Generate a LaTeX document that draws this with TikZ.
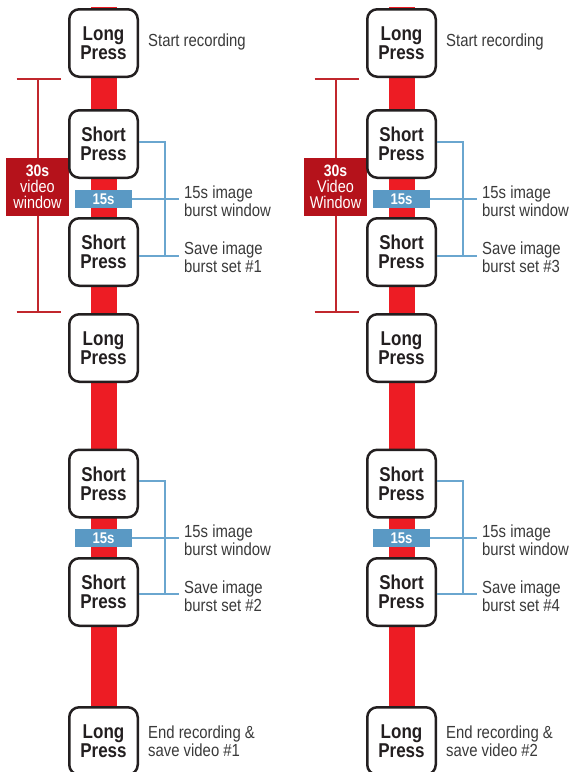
\documentclass[tikz,border=0pt]{standalone}
\usepackage{fontspec}
\setmainfont{Liberation Sans}
\newfontfamily\condfont[FakeStretch=0.85]{Liberation Sans}
\definecolor{barred}{HTML}{ED1C24}
\definecolor{darkred}{HTML}{B5121B}
\definecolor{brktred}{HTML}{C1272D}
\definecolor{boxblue}{HTML}{5A99C4}
\definecolor{lineblue}{HTML}{6AA6CF}
\definecolor{ink}{HTML}{231F20}
\definecolor{labelgray}{HTML}{3A3A3A}
\tikzset{
  pressbox/.style={draw=ink, line width=2.5pt, rounded corners=10pt, fill=white,
    minimum width=68.5pt, minimum height=67.5pt, inner sep=0pt, align=center,
    font=\condfont\bfseries\fontsize{20}{19}\selectfont, text=ink},
  secbox/.style={fill=boxblue, minimum width=57pt, minimum height=18pt, inner sep=0pt,
    text=white, font=\condfont\bfseries\fontsize{15.5}{15}\selectfont},
  vidbox/.style={fill=darkred, minimum width=63pt, minimum height=58pt, inner sep=0pt,
    text=white, align=center, font=\condfont\fontsize{17}{16}\selectfont},
  lbl/.style={anchor=west, align=left, inner sep=0pt, text=labelgray,
    font=\condfont\fontsize{17.5}{18.5}\selectfont},
  bline/.style={draw=lineblue, line width=1.2pt},
  rline/.style={draw=brktred, line width=1.1pt},
  bar/.style={fill=barred}
}
\begin{document}
\begin{tikzpicture}[x=1pt,y=-1pt]
\useasboundingbox (0,0) rectangle (578,772);
\clip (0,0) rectangle (578,772);
\fill[white] (0,0) rectangle (578,772);
\foreach \cx/\sfx/\vw/\na/\nb/\vid in {103.5/L/{video\\window}/1/2/1, 401.5/R/{Video\\Window}/3/4/2}{
  % red bar
  \fill[bar] (\cx-13,7) rectangle (\cx+13,772);
  % red bracket
  \coordinate (rt\sfx) at (\cx-65.5,79);
  \coordinate (rb\sfx) at (\cx-65.5,312);
  \draw[rline] (rt\sfx) -- (rb\sfx);
  \draw[rline] ([xshift=-21.5pt]rt\sfx) -- ([xshift=22.5pt]rt\sfx);
  \draw[rline] ([xshift=-21.5pt]rb\sfx) -- ([xshift=22.5pt]rb\sfx);
  \node[vidbox] (vid\sfx) at (\cx-66,187) {{\bfseries\fontsize{16.5}{16}\selectfont 30s}\\\vw};
  % boxes
  \node[pressbox] (lp1\sfx) at (\cx,43) {Long\\Press};
  \node[pressbox] (sp1\sfx) at (\cx,144) {Short\\Press};
  \node[pressbox] (sp2\sfx) at (\cx,252) {Short\\Press};
  \node[pressbox] (lp2\sfx) at (\cx,348) {Long\\Press};
  \node[pressbox] (sp3\sfx) at (\cx,483.5) {Short\\Press};
  \node[pressbox] (sp4\sfx) at (\cx,592) {Short\\Press};
  \node[pressbox] (lp3\sfx) at (\cx,741) {Long\\Press};
  \node[secbox] (sa\sfx) at (\cx,199) {15s};
  \node[secbox] (sb\sfx) at (\cx,538) {15s};
  % labels
  \node[lbl] (st\sfx) at (\cx+44.5,42) {Start recording};
  \node[lbl] (wa\sfx) at (\cx+80.5,201) {15s image\\burst window};
  \node[lbl] (sva\sfx) at (\cx+80.5,257) {Save image\\burst set \#\na};
  \node[lbl] (wb\sfx) at (\cx+80.5,540) {15s image\\burst window};
  \node[lbl] (svb\sfx) at (\cx+80.5,596) {Save image\\burst set \#\nb};
  \node[lbl] (end\sfx) at (\cx+44.5,741) {End recording \&\\save video \#\vid};
  % blue brackets, first set
  \coordinate (ka\sfx) at (\cx+61.5,142);
  \coordinate (kb\sfx) at (\cx+61.5,256);
  \coordinate (ea\sfx) at (\cx+75.5,199);
  \coordinate (eb\sfx) at (\cx+75.5,256);
  \draw[bline] (sp1\sfx.east |- ka\sfx) -- (ka\sfx) -- (kb\sfx);
  \draw[bline] (sp2\sfx.east |- eb\sfx) -- (eb\sfx);
  \draw[bline] (sa\sfx.east) -- (ea\sfx);
  % second set
  \coordinate (kc\sfx) at (\cx+61.5,481);
  \coordinate (kd\sfx) at (\cx+61.5,594);
  \coordinate (ec\sfx) at (\cx+75.5,538);
  \coordinate (ed\sfx) at (\cx+75.5,594);
  \draw[bline] (sp3\sfx.east |- kc\sfx) -- (kc\sfx) -- (kd\sfx);
  \draw[bline] (sp4\sfx.east |- ed\sfx) -- (ed\sfx);
  \draw[bline] (sb\sfx.east) -- (ec\sfx);
}
\end{tikzpicture}
\end{document}
